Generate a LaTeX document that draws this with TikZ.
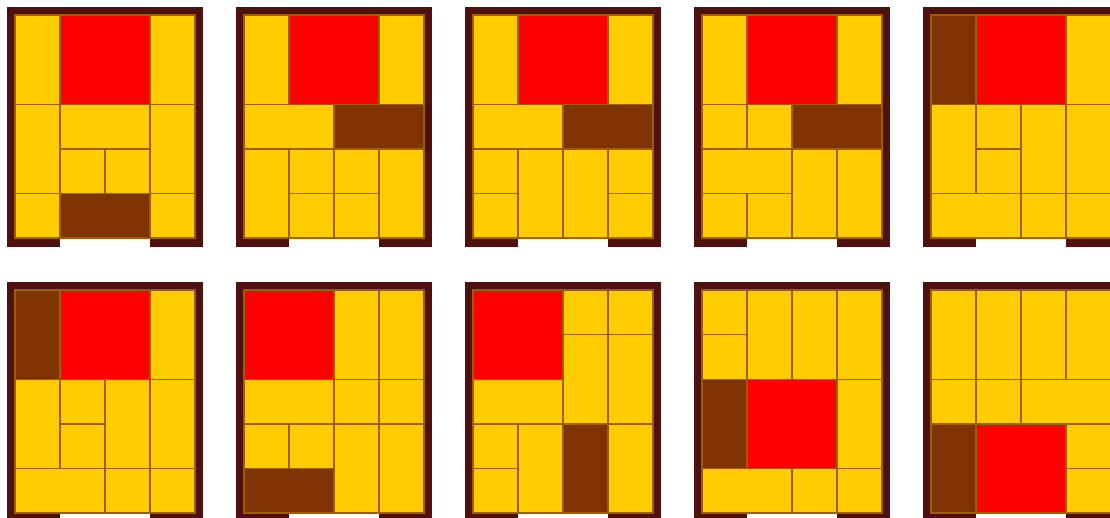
\documentclass[tikz,border=0pt]{standalone}
\usepackage{tikz}
\definecolor{kframe}{HTML}{4F1010}
\definecolor{kyellow}{HTML}{FFCC00}
\definecolor{kred}{HTML}{FF0000}
\definecolor{kbrown}{HTML}{7F3300}
\definecolor{kedge}{HTML}{9C5E00}
\tikzset{
  boardframe/.style={fill=kframe},
  exitgap/.style={fill=white},
  piece/.style={draw=kedge,line width=1.4pt},
}
% one board: #1,#2 = inner top-left corner, #3 = col/row/width/height/colour
\newcommand{\klotskiboard}[3]{%
  \begin{scope}[shift={(#1,#2)}]
    \fill[boardframe] (-8,-8) rectangle (188,232);
    \fill[exitgap] (45,223) rectangle (135,232);
    \foreach \c/\r/\w/\h/\k in {#3}
      \draw[piece,fill=\k] (\c*45,\r*44.6) rectangle ++(\w*45,\h*44.6);
  \end{scope}}

\begin{document}
\begin{tikzpicture}[x=1pt,y=-1pt]
  \clip (0,0) rectangle (1110,517);
  \fill[white] (0,0) rectangle (1110,517);
  % top row
  \klotskiboard{15}{15}{0/0/1/2/kyellow,1/0/2/2/kred,3/0/1/2/kyellow,
    0/2/1/2/kyellow,1/2/2/1/kyellow,3/2/1/2/kyellow,
    1/3/1/1/kyellow,2/3/1/1/kyellow,
    0/4/1/1/kyellow,1/4/2/1/kbrown,3/4/1/1/kyellow}
  \klotskiboard{244}{15}{0/0/1/2/kyellow,1/0/2/2/kred,3/0/1/2/kyellow,
    0/2/2/1/kyellow,2/2/2/1/kbrown,
    0/3/1/2/kyellow,1/3/1/1/kyellow,2/3/1/1/kyellow,3/3/1/2/kyellow,
    1/4/1/1/kyellow,2/4/1/1/kyellow}
  \klotskiboard{473}{15}{0/0/1/2/kyellow,1/0/2/2/kred,3/0/1/2/kyellow,
    0/2/2/1/kyellow,2/2/2/1/kbrown,
    0/3/1/1/kyellow,1/3/1/2/kyellow,2/3/1/2/kyellow,3/3/1/1/kyellow,
    0/4/1/1/kyellow,3/4/1/1/kyellow}
  \klotskiboard{702}{15}{0/0/1/2/kyellow,1/0/2/2/kred,3/0/1/2/kyellow,
    0/2/1/1/kyellow,1/2/1/1/kyellow,2/2/2/1/kbrown,
    0/3/2/1/kyellow,2/3/1/2/kyellow,3/3/1/2/kyellow,
    0/4/1/1/kyellow,1/4/1/1/kyellow}
  \klotskiboard{931}{15}{0/0/1/2/kbrown,1/0/2/2/kred,3/0/1/2/kyellow,
    0/2/1/2/kyellow,1/2/1/1/kyellow,1/3/1/1/kyellow,2/2/1/2/kyellow,3/2/1/2/kyellow,
    0/4/2/1/kyellow,2/4/1/1/kyellow,3/4/1/1/kyellow}
  % bottom row
  \klotskiboard{15}{290}{0/0/1/2/kbrown,1/0/2/2/kred,3/0/1/2/kyellow,
    0/2/1/2/kyellow,1/2/1/1/kyellow,1/3/1/1/kyellow,2/2/1/2/kyellow,3/2/1/2/kyellow,
    0/4/2/1/kyellow,2/4/1/1/kyellow,3/4/1/1/kyellow}
  \klotskiboard{244}{290}{0/0/2/2/kred,2/0/1/2/kyellow,3/0/1/2/kyellow,
    0/2/2/1/kyellow,2/2/1/1/kyellow,3/2/1/1/kyellow,
    0/3/1/1/kyellow,1/3/1/1/kyellow,2/3/1/2/kyellow,3/3/1/2/kyellow,
    0/4/2/1/kbrown}
  \klotskiboard{473}{290}{0/0/2/2/kred,2/0/1/1/kyellow,3/0/1/1/kyellow,
    2/1/1/2/kyellow,3/1/1/2/kyellow,0/2/2/1/kyellow,
    0/3/1/1/kyellow,0/4/1/1/kyellow,1/3/1/2/kyellow,2/3/1/2/kbrown,3/3/1/2/kyellow}
  \klotskiboard{702}{290}{0/0/1/1/kyellow,0/1/1/1/kyellow,1/0/1/2/kyellow,2/0/1/2/kyellow,3/0/1/2/kyellow,
    0/2/1/2/kbrown,1/2/2/2/kred,3/2/1/2/kyellow,
    0/4/2/1/kyellow,2/4/1/1/kyellow,3/4/1/1/kyellow}
  \klotskiboard{931}{290}{0/0/1/2/kyellow,1/0/1/2/kyellow,2/0/1/2/kyellow,3/0/1/2/kyellow,
    0/2/1/1/kyellow,1/2/1/1/kyellow,2/2/2/1/kyellow,
    0/3/1/2/kbrown,1/3/2/2/kred,3/3/1/1/kyellow,3/4/1/1/kyellow}
\end{tikzpicture}
\end{document}
